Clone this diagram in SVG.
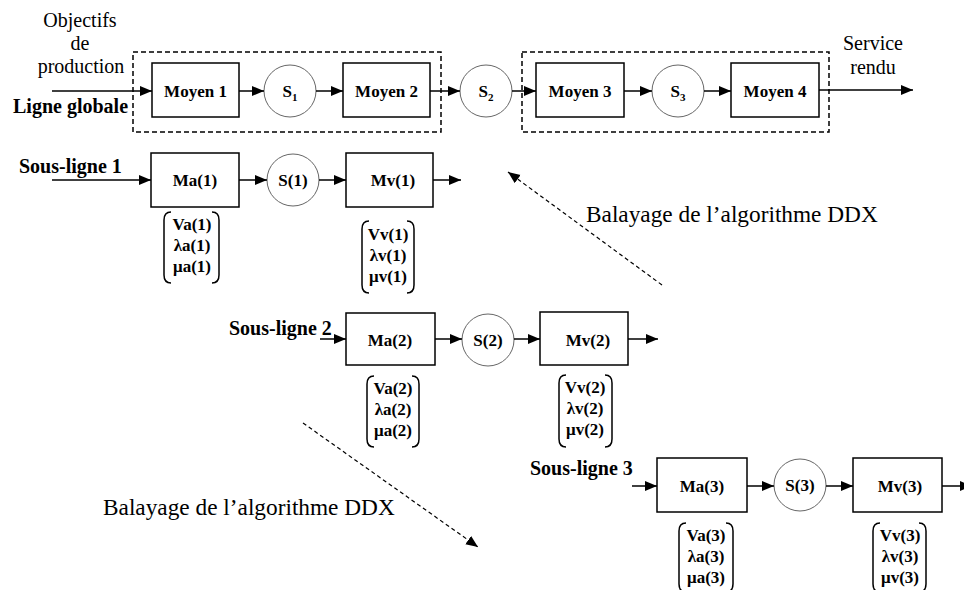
<svg xmlns="http://www.w3.org/2000/svg" width="964" height="590" viewBox="0 0 964 590">
<defs>
<marker id="ah" markerUnits="userSpaceOnUse" markerWidth="13" markerHeight="11" refX="12" refY="5" orient="auto">
<path d="M0,0 L12,5 L0,10 z" fill="#000"/>
</marker>
<style>
.box{fill:#fff;stroke:#000;stroke-width:1.5}
.buf{fill:#fff;stroke:#666;stroke-width:1}
.dash{fill:none;stroke:#000;stroke-width:1.5;stroke-dasharray:5 3}
.ln{fill:none;stroke:#000;stroke-width:1.5;marker-end:url(#ah)}
.dl{fill:none;stroke:#000;stroke-width:1.2;stroke-dasharray:4 3;marker-end:url(#ah)}
.br{fill:none;stroke:#000;stroke-width:1.5}
text{font-family:"Liberation Serif","Times New Roman",serif;fill:#000}
.r{font-size:20px}
.big{font-size:23.3px}
.lb{font-size:20px;font-weight:bold}
.nb{font-size:17px;font-weight:bold;text-anchor:middle}
.c{text-anchor:middle}
</style>
</defs>
<rect width="964" height="590" fill="#fff"/>

<g id="labels">
<text class="r c" x="80" y="27">Objectifs</text>
<text class="r c" x="80" y="50">de</text>
<text class="r c" x="81" y="73">production</text>
<text class="lb" x="13" y="113">Ligne globale</text>
<text class="r c" x="873" y="50">Service</text>
<text class="r c" x="873" y="74">rendu</text>
<text class="lb" x="19" y="173">Sous-ligne 1</text>
<text class="lb" x="229" y="335">Sous-ligne 2</text>
<text class="lb" x="530" y="475">Sous-ligne 3</text>
<text class="big" x="586" y="222">Balayage de l’algorithme DDX</text>
<text class="big" x="103" y="515">Balayage de l’algorithme DDX</text>
</g>

<g id="groupe1"><rect class="dash" x="133" y="52" width="308" height="80"/></g>
<g id="groupe2"><rect class="dash" x="522" y="52" width="307" height="80"/></g>

<g id="moyen1"><rect class="box" x="152" y="63" width="87" height="54"/><text class="nb" x="195.5" y="97">Moyen 1</text></g>
<g id="s1"><circle class="buf" cx="290" cy="91" r="26"/><text class="nb" x="290" y="97">S<tspan font-size="11" dy="4">1</tspan></text></g>
<g id="moyen2"><rect class="box" x="343" y="63" width="87" height="54"/><text class="nb" x="386.5" y="97">Moyen 2</text></g>
<g id="s2"><circle class="buf" cx="486" cy="91" r="26"/><text class="nb" x="486" y="97">S<tspan font-size="11" dy="4">2</tspan></text></g>
<g id="moyen3"><rect class="box" x="536" y="63" width="88" height="54"/><text class="nb" x="580" y="97">Moyen 3</text></g>
<g id="s3"><circle class="buf" cx="678" cy="91" r="26"/><text class="nb" x="678" y="97">S<tspan font-size="11" dy="4">3</tspan></text></g>
<g id="moyen4"><rect class="box" x="731" y="63" width="88" height="54"/><text class="nb" x="775" y="97">Moyen 4</text></g>

<g id="ma1"><rect class="box" x="151" y="153" width="88" height="54"/><text class="nb" x="195" y="186">Ma(1)</text></g>
<g id="sb1"><circle class="buf" cx="293" cy="180" r="26"/><text class="nb" x="293" y="186">S(1)</text></g>
<g id="mv1"><rect class="box" x="346" y="153" width="87" height="54"/><text class="nb" x="393" y="186">Mv(1)</text></g>
<g id="pa1"><path class="br" d="M171,212 Q164,212 164,220 L164,275 Q164,283 171,283 M212,212 Q219,212 219,220 L219,275 Q219,283 212,283"/>
<text class="nb" x="192" y="230">Va(1)</text><text class="nb" x="192" y="251">λa(1)</text><text class="nb" x="192" y="272">μa(1)</text></g>
<g id="pv1"><path class="br" d="M369,221 Q362,221 362,229 L362,285 Q362,293 369,293 M407,221 Q414,221 414,229 L414,285 Q414,293 407,293"/>
<text class="nb" x="388" y="240">Vv(1)</text><text class="nb" x="388" y="261">λv(1)</text><text class="nb" x="388" y="282">μv(1)</text></g>

<g id="ma2"><rect class="box" x="346" y="313" width="89" height="52"/><text class="nb" x="390" y="346">Ma(2)</text></g>
<g id="sb2"><circle class="buf" cx="488" cy="340" r="26"/><text class="nb" x="488" y="346">S(2)</text></g>
<g id="mv2"><rect class="box" x="540" y="312" width="88" height="53"/><text class="nb" x="588" y="346">Mv(2)</text></g>
<g id="pa2"><path class="br" d="M374,376 Q367,376 367,384 L367,439 Q367,447 374,447 M412,376 Q419,376 419,384 L419,439 Q419,447 412,447"/>
<text class="nb" x="393" y="394">Va(2)</text><text class="nb" x="393" y="415">λa(2)</text><text class="nb" x="393" y="436">μa(2)</text></g>
<g id="pv2"><path class="br" d="M566,375 Q559,375 559,383 L559,439 Q559,447 566,447 M605,375 Q612,375 612,383 L612,439 Q612,447 605,447"/>
<text class="nb" x="585" y="393">Vv(2)</text><text class="nb" x="585" y="414">λv(2)</text><text class="nb" x="585" y="435">μv(2)</text></g>

<g id="ma3"><rect class="box" x="657" y="458" width="90" height="54"/><text class="nb" x="702" y="492">Ma(3)</text></g>
<g id="sb3"><circle class="buf" cx="800" cy="485" r="26"/><text class="nb" x="800" y="491">S(3)</text></g>
<g id="mv3"><rect class="box" x="853" y="458" width="89" height="54"/><text class="nb" x="900" y="492">Mv(3)</text></g>
<g id="pa3"><path class="br" d="M686,523 Q679,523 679,531 L679,584 Q679,592 686,592 M726,523 Q733,523 733,531 L733,584 Q733,592 726,592"/>
<text class="nb" x="706" y="541">Va(3)</text><text class="nb" x="706" y="562">λa(3)</text><text class="nb" x="706" y="583">μa(3)</text></g>
<g id="pv3"><path class="br" d="M880,523 Q873,523 873,531 L873,584 Q873,592 880,592 M919,523 Q926,523 926,531 L926,584 Q926,592 919,592"/>
<text class="nb" x="900" y="541">Vv(3)</text><text class="nb" x="900" y="562">λv(3)</text><text class="nb" x="900" y="583">μv(3)</text></g>

<g id="connectors">
<line class="ln" x1="52" y1="91" x2="152" y2="91"/>
<line class="ln" x1="239" y1="91" x2="264" y2="91"/>
<line class="ln" x1="316" y1="91" x2="343" y2="91"/>
<line class="ln" x1="430" y1="91" x2="460" y2="91"/>
<line class="ln" x1="512" y1="91" x2="536" y2="91"/>
<line class="ln" x1="624" y1="91" x2="652" y2="91"/>
<line class="ln" x1="704" y1="91" x2="731" y2="91"/>
<line class="ln" x1="819" y1="90" x2="913" y2="90"/>
<line class="ln" x1="52" y1="180" x2="151" y2="180"/>
<line class="ln" x1="239" y1="180" x2="267" y2="180"/>
<line class="ln" x1="319" y1="180" x2="346" y2="180"/>
<line class="ln" x1="433" y1="180" x2="461" y2="180"/>
<line class="ln" x1="320" y1="339" x2="346" y2="339"/>
<line class="ln" x1="435" y1="339" x2="462" y2="339"/>
<line class="ln" x1="514" y1="339" x2="540" y2="339"/>
<line class="ln" x1="628" y1="339" x2="658" y2="339"/>
<line class="ln" x1="632" y1="486" x2="657" y2="486"/>
<line class="ln" x1="747" y1="486" x2="774" y2="486"/>
<line class="ln" x1="826" y1="486" x2="853" y2="486"/>
<line class="ln" x1="942" y1="486" x2="972" y2="486"/>
<line class="dl" x1="662" y1="285" x2="508" y2="172"/>
<line class="dl" x1="303" y1="423" x2="478" y2="547"/>
</g>
</svg>
